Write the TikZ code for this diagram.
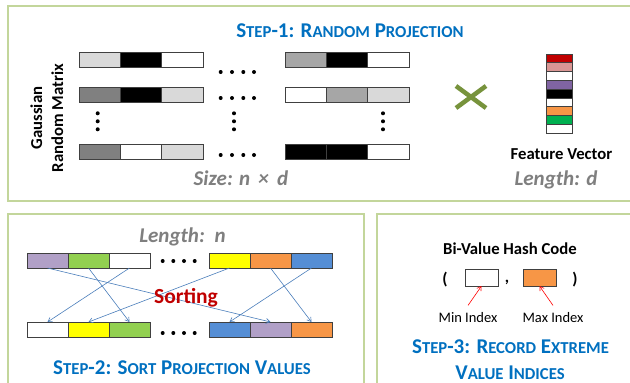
\documentclass[tikz,border=0pt]{standalone}
\usepackage{fontspec}
\setmainfont{Carlito}
\usetikzlibrary{arrows.meta}
\definecolor{panelgreen}{HTML}{C3D69B}
\definecolor{titleblue}{HTML}{0070C0}
\definecolor{lgray}{HTML}{D9D9D9}
\definecolor{mgray}{HTML}{A6A6A6}
\definecolor{dgray}{HTML}{808080}
\definecolor{txtgray}{HTML}{7F7F7F}
\definecolor{fvred}{HTML}{C00000}
\definecolor{fvpink}{HTML}{D99694}
\definecolor{fvpurple}{HTML}{8064A2}
\definecolor{fvorange}{HTML}{F79646}
\definecolor{fvgreen}{HTML}{00B050}
\definecolor{slilac}{HTML}{B1A0C7}
\definecolor{sgreen}{HTML}{92D050}
\definecolor{syellow}{HTML}{FFFF00}
\definecolor{sblue}{HTML}{558ED5}
\definecolor{arrowblue}{HTML}{4A7EBB}
\definecolor{crossgreen}{HTML}{77933C}
\definecolor{sortred}{HTML}{C00000}
\newcommand\smc[1]{{\fontsize{16.7}{20}\selectfont #1}}
\tikzset{
  panel/.style={draw=panelgreen, line width=1.2pt},
  cellbox/.style={draw=black!75, line width=0.8pt, inner sep=0pt, outer sep=0pt, anchor=north west},
  mcell/.style={cellbox, minimum width=41.33pt, minimum height=15pt},
  scell/.style={cellbox, minimum width=41pt, minimum height=15pt},
  fcell/.style={cellbox, minimum width=26pt, minimum height=8.78pt},
  hcell/.style={cellbox, minimum width=33pt, minimum height=17pt},
  titletext/.style={font=\fontsize{21}{25}\selectfont\bfseries, text=titleblue, anchor=base, inner sep=0pt},
  graytext/.style={font=\fontsize{21}{25}\selectfont\bfseries\itshape, text=txtgray, anchor=base, inner sep=0pt},
  blacklabel/.style={font=\fontsize{16.7}{20}\selectfont\bfseries, anchor=base, inner sep=0pt},
  idxlabel/.style={font=\fontsize{14.5}{17}\selectfont, anchor=base, inner sep=0pt},
  dotmark/.style={fill=black, circle, inner sep=0pt, minimum size=4pt},
  sortarrow/.style={draw=arrowblue, line width=0.6pt, -{Straight Barb[length=4pt,width=5pt]}},
  redarrow/.style={draw=red, line width=0.6pt, -{Straight Barb[length=4pt,width=5pt]}}
}
\begin{document}
\begin{tikzpicture}[x=1pt,y=-1pt]
\clip (0,0) rectangle (630,383);
\fill[white] (0,0) rectangle (630,383);
% panels
\draw[panel] (8,6) rectangle (645,201);
\draw[panel] (8,214) rectangle (364,400);
\draw[panel] (377,214) rectangle (645,400);

% ---------- Step 1 ----------
\node[titletext] (t1title) at (350,37) {S\smc{TEP}-1: R\smc{ANDOM} P\smc{ROJECTION}};
\node[blacklabel, rotate=90] (gauss) at (42,118) {Gaussian};
\node[blacklabel, rotate=90] (randm) at (63,118) {Random Matrix};

% matrix rows, left block
\node[mcell, fill=lgray] (r1a) at (79,52) {};
\node[mcell, fill=black] (r1b) at (120.33,52) {};
\node[mcell, fill=white] (r1c) at (161.67,52) {};
\node[mcell, fill=dgray] (r2a) at (79,87) {};
\node[mcell, fill=black] (r2b) at (120.33,87) {};
\node[mcell, fill=lgray] (r2c) at (161.67,87) {};
\node[mcell, fill=dgray] (r4a) at (79,144) {};
\node[mcell, fill=white] (r4b) at (120.33,144) {};
\node[mcell, fill=lgray] (r4c) at (161.67,144) {};
% right block
\node[mcell, fill=mgray] (r1d) at (285,52) {};
\node[mcell, fill=black] (r1e) at (326.33,52) {};
\node[mcell, fill=white] (r1f) at (367.67,52) {};
\node[mcell, fill=white] (r2d) at (285,87) {};
\node[mcell, fill=mgray] (r2e) at (326.33,87) {};
\node[mcell, fill=lgray] (r2f) at (367.67,87) {};
\node[mcell, fill=black] (r4d) at (285,144) {};
\node[mcell, fill=black] (r4e) at (326.33,144) {};
\node[mcell, fill=white] (r4f) at (367.67,144) {};

% horizontal dots
\foreach \yy/\nm in {72/ha,98/hb,155/hc}{
  \foreach \xx [count=\k] in {220.7,232,243.3,254}{
    \node[dotmark] (\nm\k) at (\xx,\yy) {};
  }
}
% vertical dots
\foreach \xx/\nm in {97.7/va,234/vb,383/vc}{
  \foreach \yy [count=\k] in {113.3,121.3,129.3}{
    \node[dotmark] (\nm\k) at (\xx,\yy) {};
  }
}
\node[graytext] (sizelbl) at (241,185) {Size: n \,×\, d};

% cross
\draw[crossgreen, line width=4.5pt] (456,86) -- (486,108);
\draw[crossgreen, line width=4.5pt] (456,108) -- (486,86);

% feature vector
\foreach \c [count=\k] in {fvred,fvpink,white,fvpurple,black,white,fvorange,fvgreen,white}{
  \node[fcell, fill=\c] (fv\k) at (546,{54+(\k-1)*8.78}) {};
}
\node[blacklabel] (fvlbl) at (561.5,159) {Feature Vector};
\node[graytext] (lenD) at (556,185) {Length: d};

% ---------- Step 2 ----------
\node[graytext] (lenN) at (182.5,242.7) {Length: \,n};
\node[scell, fill=slilac] (s1) at (27,253) {};
\node[scell, fill=sgreen] (s2) at (68,253) {};
\node[scell, fill=white] (s3) at (109,253) {};
\node[scell, fill=syellow] (s4) at (209,253) {};
\node[scell, fill=fvorange] (s5) at (250,253) {};
\node[scell, fill=sblue] (s6) at (291,253) {};
\node[scell, fill=white] (b1) at (27,322) {};
\node[scell, fill=syellow] (b2) at (68,322) {};
\node[scell, fill=sgreen] (b3) at (109,322) {};
\node[scell, fill=sblue] (b4) at (209,322) {};
\node[scell, fill=slilac] (b5) at (250,322) {};
\node[scell, fill=fvorange] (b6) at (291,322) {};
\foreach \yy/\nm in {261/sa,333/sb}{
  \foreach \xx [count=\k] in {162.7,173.3,184,194.7}{
    \node[dotmark] (\nm\k) at (\xx,\yy) {};
  }
}
\draw[sortarrow] (s1.south) -- (b5.north);
\draw[sortarrow] (s2.south) -- (b3.north);
\draw[sortarrow] (s3.south) -- (b1.north);
\draw[sortarrow] (s4.south) -- (b2.north);
\draw[sortarrow] (s5.south) -- (b6.north);
\draw[sortarrow] (s6.south) -- (b4.north);
\node[font=\fontsize{21.5}{25}\selectfont\bfseries, text=sortred, anchor=base, inner sep=0pt] (sortlbl) at (186,303.3) {Sorting};
\node[titletext] (t2title) at (182,374) {S\smc{TEP}-2: S\smc{ORT} P\smc{ROJECTION} V\smc{ALUES}};

% ---------- Step 3 ----------
\node[blacklabel] (hashlbl) at (510,254) {Bi-Value Hash Code};
\node[blacklabel] (lpar) at (445,284) {(};
\node[hcell, fill=white] (h1) at (465,269) {};
\node[blacklabel] (comma) at (507,282) {,};
\node[hcell, fill=fvorange] (h2) at (523,269) {};
\node[blacklabel] (rpar) at (575,284) {)};
\node[idxlabel] (minlbl) at (468,322.7) {Min Index};
\node[idxlabel] (maxlbl) at (553,322.7) {Max Index};
\draw[redarrow] ([yshift=7pt]minlbl.north) -- (h1.south);
\draw[redarrow] ([yshift=7pt]maxlbl.north) -- (h2.south);
\node[titletext] (t3a) at (510.5,353.3) {S\smc{TEP}-3: R\smc{ECORD} E\smc{XTREME}};
\node[titletext] (t3b) at (510,379) {V\smc{ALUE} I\smc{NDICES}};
\end{tikzpicture}
\end{document}
